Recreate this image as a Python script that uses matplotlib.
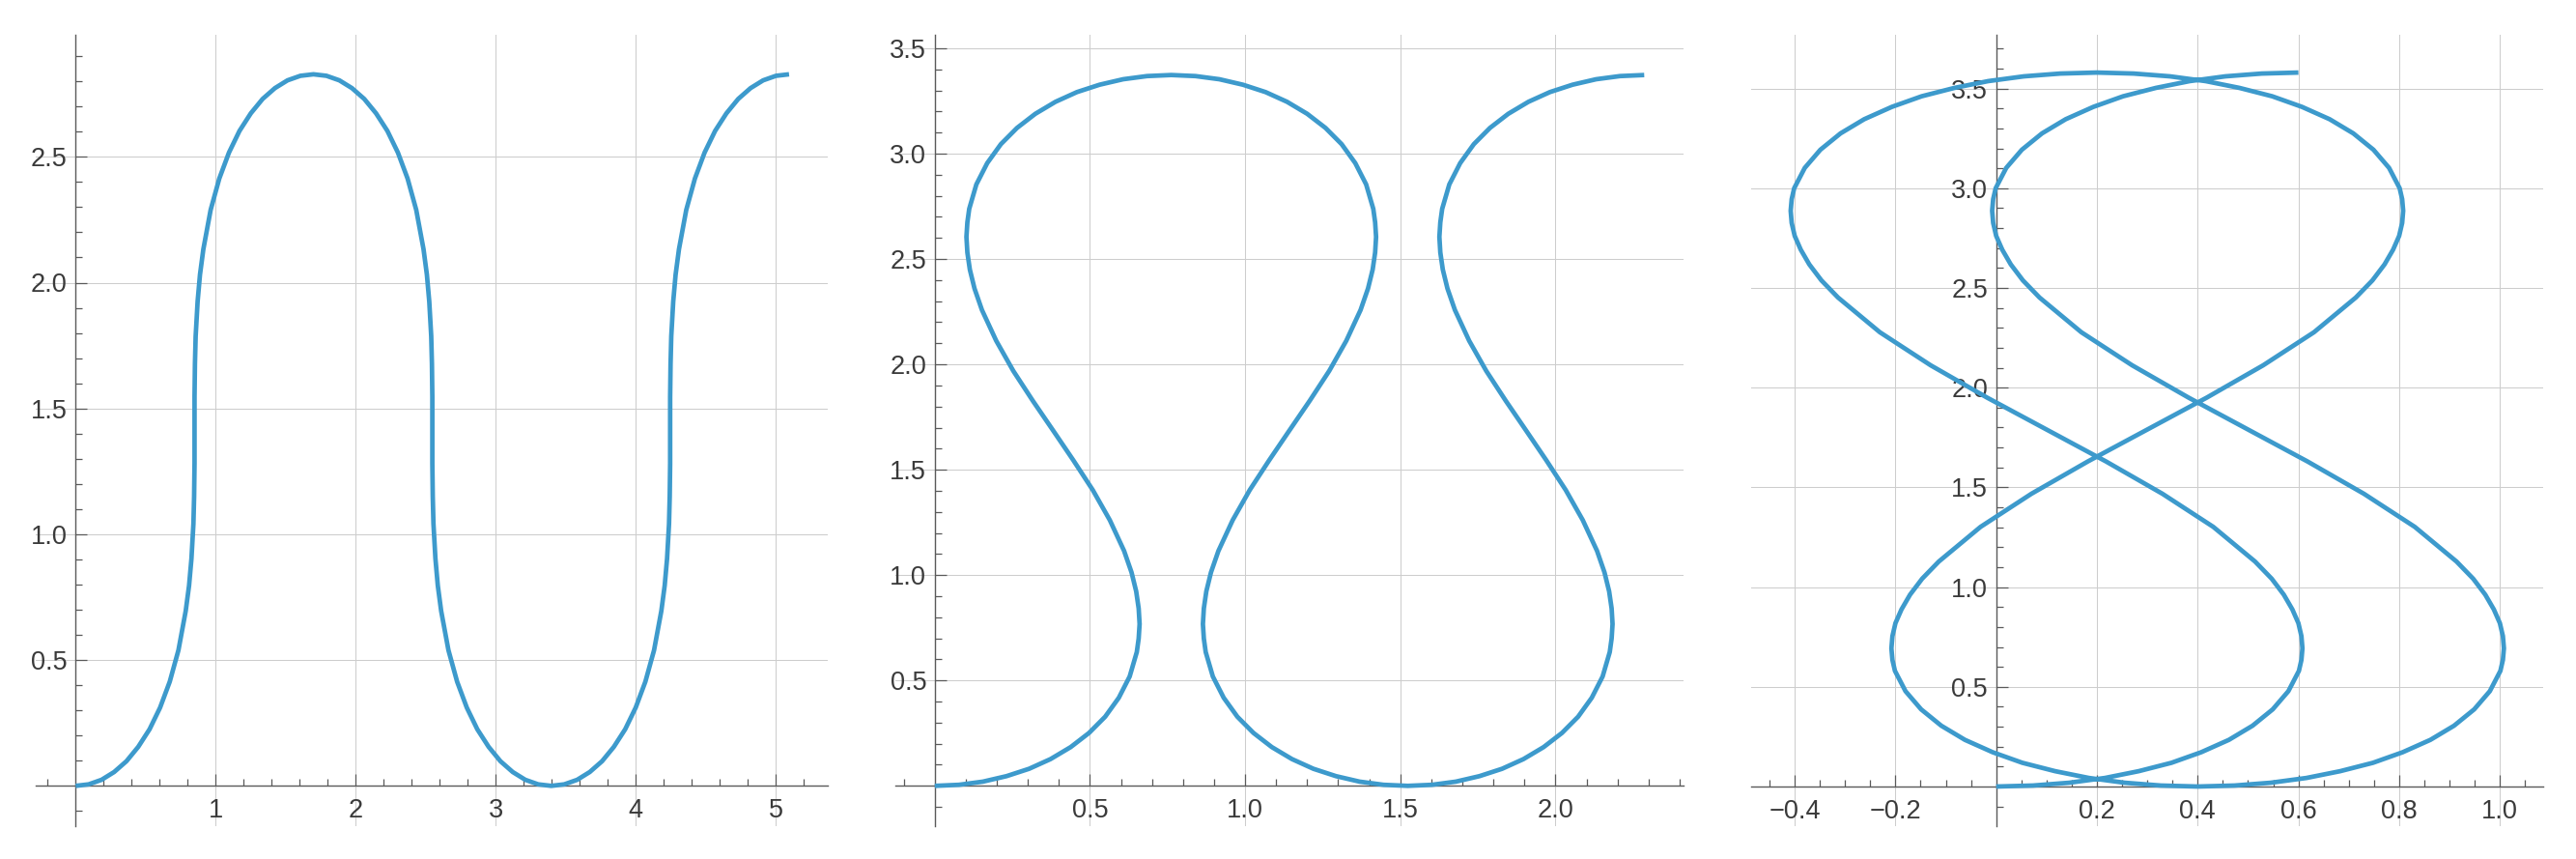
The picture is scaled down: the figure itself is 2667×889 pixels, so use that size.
import matplotlib
matplotlib.use("Agg")
import matplotlib.pyplot as plt
import numpy as np
from matplotlib.ticker import FixedLocator, FixedFormatter

plt.rcParams['font.family'] = ['Liberation Sans', 'DejaVu Sans']

# Curva 1
x1 = [0.000, 0.093, 0.185, 0.275, 0.363, 0.447, 0.528, 0.603, 0.672, 0.734, 0.786, 0.810, 0.827, 0.841, 0.846, 0.849, 0.849,
      0.849, 0.852, 0.857, 0.871, 0.888, 0.912, 0.964, 1.026, 1.095, 1.170, 1.251, 1.335, 1.423, 1.513, 1.605, 1.698,
      1.791, 1.883, 1.973, 2.061, 2.145, 2.226, 2.301, 2.370, 2.432, 2.484, 2.508, 2.525, 2.539, 2.544, 2.547, 2.547,
      2.547, 2.550, 2.555, 2.569, 2.586, 2.610, 2.662, 2.724, 2.793, 2.868, 2.949, 3.033, 3.121, 3.211, 3.303, 3.396,
      3.489, 3.581, 3.671, 3.759, 3.843, 3.924, 3.999, 4.068, 4.130, 4.182, 4.206, 4.223, 4.237, 4.242, 4.245, 4.245,
      4.245, 4.248, 4.253, 4.267, 4.284, 4.308, 4.360, 4.422, 4.491, 4.566, 4.647, 4.731, 4.819, 4.909, 5.001, 5.094]
y1 = [0.000, 0.006, 0.024, 0.055, 0.098, 0.155, 0.225, 0.311, 0.414, 0.539, 0.695, 0.796, 0.903, 1.041, 1.150, 1.282, 1.414,
      1.546, 1.678, 1.787, 1.925, 2.032, 2.133, 2.289, 2.414, 2.517, 2.603, 2.673, 2.730, 2.773, 2.804, 2.822, 2.828,
      2.822, 2.804, 2.773, 2.730, 2.673, 2.603, 2.517, 2.414, 2.289, 2.133, 2.032, 1.925, 1.787, 1.678, 1.546, 1.414,
      1.282, 1.150, 1.041, 0.903, 0.796, 0.695, 0.539, 0.414, 0.311, 0.225, 0.155, 0.098, 0.055, 0.024, 0.006, 0.000,
      0.006, 0.024, 0.055, 0.098, 0.155, 0.225, 0.311, 0.414, 0.539, 0.695, 0.796, 0.903, 1.041, 1.150, 1.282, 1.414,
      1.546, 1.678, 1.787, 1.925, 2.032, 2.133, 2.289, 2.414, 2.517, 2.603, 2.673, 2.730, 2.773, 2.804, 2.822, 2.828]

# Curva 2
x2 = [0.000, 0.078, 0.155, 0.231, 0.304, 0.373, 0.438, 0.497, 0.549, 0.593, 0.628, 0.651, 0.657, 0.660, 0.657, 0.649, 0.634, 0.610, 0.564, 0.509, 0.446, 0.381,
      0.316, 0.253, 0.198, 0.152, 0.128, 0.113, 0.105, 0.102, 0.105, 0.111, 0.134, 0.169, 0.213, 0.265, 0.324, 0.389, 0.458, 0.531, 0.607, 0.684, 0.762,
      0.840, 0.917, 0.993, 1.066, 1.135, 1.200, 1.259, 1.311, 1.355, 1.390, 1.413, 1.419, 1.422, 1.419, 1.411, 1.396, 1.372, 1.326, 1.271, 1.208, 1.143,
      1.078, 1.015, 0.960, 0.914, 0.890, 0.875, 0.867, 0.864, 0.867, 0.873, 0.896, 0.931, 0.975, 1.027, 1.086, 1.151, 1.220, 1.293, 1.369, 1.446, 1.524,
      1.602, 1.679, 1.755, 1.828, 1.897, 1.962, 2.021, 2.073, 2.117, 2.152, 2.175, 2.181, 2.184, 2.181, 2.173, 2.158, 2.134, 2.088, 2.033, 1.970, 1.905,
      1.840, 1.777, 1.722, 1.676, 1.652, 1.637, 1.629, 1.626, 1.629, 1.635, 1.658, 1.693, 1.737, 1.789, 1.848, 1.913, 1.982, 2.055, 2.131, 2.208, 2.286]
y2 = [0.000, 0.005, 0.020, 0.046, 0.081, 0.127, 0.184, 0.251, 0.328, 0.418, 0.519, 0.635, 0.699, 0.768, 0.842, 0.923, 1.013, 1.115, 1.261, 1.404, 1.546, 1.687,
      1.827, 1.969, 2.112, 2.258, 2.360, 2.450, 2.531, 2.605, 2.674, 2.738, 2.854, 2.955, 3.045, 3.122, 3.189, 3.246, 3.292, 3.327, 3.353, 3.368, 3.373,
      3.368, 3.353, 3.327, 3.292, 3.246, 3.189, 3.122, 3.045, 2.955, 2.854, 2.738, 2.674, 2.605, 2.531, 2.450, 2.360, 2.258, 2.112, 1.969, 1.827, 1.687,
      1.546, 1.404, 1.261, 1.115, 1.013, 0.923, 0.842, 0.768, 0.699, 0.635, 0.519, 0.418, 0.328, 0.251, 0.184, 0.127, 0.081, 0.046, 0.020, 0.005, 0.000,
      0.005, 0.020, 0.046, 0.081, 0.127, 0.184, 0.251, 0.328, 0.418, 0.519, 0.635, 0.699, 0.768, 0.842, 0.923, 1.013, 1.115, 1.261, 1.404, 1.546, 1.687,
      1.827, 1.969, 2.112, 2.258, 2.360, 2.450, 2.531, 2.605, 2.674, 2.738, 2.854, 2.955, 3.045, 3.122, 3.189, 3.246, 3.292, 3.327, 3.353, 3.368, 3.373]

# Curva 3
x3 = [0.000, 0.073, 0.145, 0.216, 0.283, 0.348, 0.407, 0.462, 0.509, 0.549, 0.580, 0.601, 0.606, 0.608, 0.606, 0.600, 0.588, 0.571, 0.547, 0.514, 0.431, 0.330, 0.218, 0.100,
      -0.018, -0.130, -0.231, -0.314, -0.347, -0.371, -0.388, -0.400, -0.406, -0.408, -0.406, -0.401, -0.380, -0.349, -0.309, -0.262, -0.207, -0.148, -0.083, -0.016, 0.055, 0.127, 0.200,
      0.273, 0.345, 0.416, 0.483, 0.548, 0.607, 0.662, 0.709, 0.749, 0.780, 0.801, 0.806, 0.808, 0.806, 0.800, 0.788, 0.771, 0.747, 0.714, 0.631, 0.530, 0.418, 0.300,
      0.182, 0.070, -0.031, -0.114, -0.147, -0.171, -0.188, -0.200, -0.206, -0.208, -0.206, -0.201, -0.180, -0.149, -0.109, -0.062, -0.007, 0.052, 0.117, 0.184, 0.255, 0.327, 0.400,
      0.473, 0.545, 0.616, 0.683, 0.748, 0.807, 0.862, 0.909, 0.949, 0.980, 1.001, 1.006, 1.008, 1.006, 1.000, 0.988, 0.971, 0.947, 0.914, 0.831, 0.730, 0.618, 0.500,
      0.382, 0.270, 0.169, 0.086, 0.053, 0.029, 0.012, 0.000, -0.006, -0.008, -0.006, -0.001, 0.020, 0.051, 0.091, 0.138, 0.193, 0.252, 0.317, 0.384, 0.455, 0.527, 0.600]
y3 = [0.000, 0.005, 0.019, 0.043, 0.077, 0.119, 0.172, 0.234, 0.305, 0.387, 0.478, 0.580, 0.635, 0.693, 0.754, 0.819, 0.888, 0.962, 1.042, 1.128, 1.302, 1.468, 1.630, 1.790,
      1.950, 2.112, 2.278, 2.452, 2.538, 2.618, 2.692, 2.761, 2.826, 2.887, 2.945, 3.000, 3.102, 3.193, 3.275, 3.346, 3.408, 3.461, 3.503, 3.537, 3.561, 3.575, 3.580,
      3.575, 3.561, 3.537, 3.503, 3.461, 3.408, 3.346, 3.275, 3.193, 3.102, 3.000, 2.945, 2.887, 2.826, 2.761, 2.692, 2.618, 2.538, 2.452, 2.278, 2.112, 1.950, 1.790,
      1.630, 1.468, 1.302, 1.128, 1.042, 0.962, 0.888, 0.819, 0.754, 0.693, 0.635, 0.580, 0.478, 0.387, 0.305, 0.234, 0.172, 0.119, 0.077, 0.043, 0.019, 0.005, 0.000,
      0.005, 0.019, 0.043, 0.077, 0.119, 0.172, 0.234, 0.305, 0.387, 0.478, 0.580, 0.635, 0.693, 0.754, 0.819, 0.888, 0.962, 1.042, 1.128, 1.302, 1.468, 1.630, 1.790,
      1.950, 2.112, 2.278, 2.452, 2.538, 2.618, 2.692, 2.761, 2.826, 2.887, 2.945, 3.000, 3.102, 3.193, 3.275, 3.346, 3.408, 3.461, 3.503, 3.537, 3.561, 3.575, 3.580]

# Marcas de los ejes
xt1 = [1, 2, 3, 4, 5]; xl1 = ['1', '2', '3', '4', '5']
yt1 = [0.5, 1.0, 1.5, 2.0, 2.5]; yl1 = ['0.5', '1.0', '1.5', '2.0', '2.5']
xt2 = [0.5, 1.0, 1.5, 2.0]; xl2 = ['0.5', '1.0', '1.5', '2.0']
yt2 = [0.5, 1.0, 1.5, 2.0, 2.5, 3.0, 3.5]; yl2 = ['0.5', '1.0', '1.5', '2.0', '2.5', '3.0', '3.5']
xt3 = [-0.4, -0.2, 0.2, 0.4, 0.6, 0.8, 1.0]; xl3 = ['\u22120.4', '\u22120.2', '0.2', '0.4', '0.6', '0.8', '1.0']
yt3 = yt2; yl3 = yl2

W, H = 2667, 889
fig = plt.figure(figsize=(W/100, H/100), dpi=100)
azul = '#3d9acc'; cej = '#5a5a5a'; ctx = '#3a3a3a'; cgr = '#cdcdcd'

def menores(lo, hi, paso, mayores):
    v = np.round(np.arange(np.ceil(lo/paso)*paso, hi, paso), 4)
    return [t for t in v if abs(t) > 1e-9 and min(abs(t-m) for m in mayores) > 1e-6]

def panel(caja, x0, sx, y0, sy, x, y, xt, xl, xm, yt, yl, ym):
    l, r, t, b = caja  # pixeles de la caja
    ax = fig.add_axes([l/W, 1-b/H, (r-l)/W, (b-t)/H])
    ax.set_xlim((l-x0)/sx, (r-x0)/sx); ax.set_ylim((y0-b)/sy, (y0-t)/sy)
    ax.plot(x, y, color=azul, lw=3.4, solid_capstyle='butt', solid_joinstyle='round', zorder=3)
    for s in ['top', 'right']: ax.spines[s].set_visible(False)
    for s in ['left', 'bottom']:
        ax.spines[s].set_position(('data', 0)); ax.spines[s].set_color(cej); ax.spines[s].set_linewidth(1.0)
    ax.xaxis.set_major_locator(FixedLocator(xt)); ax.xaxis.set_major_formatter(FixedFormatter(xl))
    ax.yaxis.set_major_locator(FixedLocator(yt)); ax.yaxis.set_major_formatter(FixedFormatter(yl))
    x_lo, x_hi = ax.get_xlim(); y_lo, y_hi = ax.get_ylim()
    ax.xaxis.set_minor_locator(FixedLocator(menores(x_lo, x_hi, xm, xt)))
    ax.yaxis.set_minor_locator(FixedLocator(menores(y_lo, y_hi, ym, yt)))
    ax.tick_params(which='both', direction='in', color=cej, width=0.9)
    ax.tick_params(which='major', length=8.6, labelsize=19.5, labelcolor=ctx)
    ax.tick_params(which='minor', length=5.0)
    ax.tick_params(axis='x', which='major', pad=9.4)
    ax.tick_params(axis='y', which='major', pad=6.2)
    ax.grid(which='major', color=cgr, lw=0.75, zorder=0)
    ax.set_axisbelow(True)
    return ax

panel((37.3, 857.0, 36, 855), 78.3, 145.0, 813.3, 260.4, x1, y1, xt1, xl1, 0.2, yt1, yl1, 0.1)
panel((926.8, 1743.3, 36, 855), 967.8, 321.3, 813.3, 218.1, x2, y2, xt2, xl2, 0.1, yt2, yl2, 0.1)
panel((1813.0, 2633.4, 36, 855), 2066.7, 521.5, 814.0, 206.4, x3, y3, xt3, xl3, 0.05, yt3, yl3, 0.1)

fig.savefig('out.png', dpi=100, facecolor='white')
